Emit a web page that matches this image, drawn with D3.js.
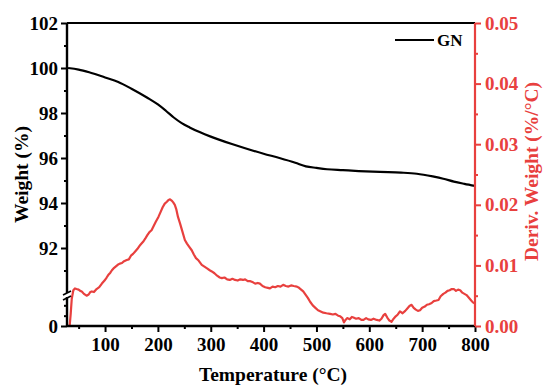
<!DOCTYPE html>
<html>
<head>
<meta charset="utf-8">
<script src="https://cdn.jsdelivr.net/npm/d3@7"></script>
<style>
  html, body { margin: 0; padding: 0; background: #fff; }
  svg text { font-family: "Liberation Serif", "Times New Roman", serif; font-weight: bold; }
</style>
</head>
<body>
<svg id="chart" width="543" height="390"></svg>
<script>
// TGA of GN: weight loss and its derivative versus temperature
const weightTemp = [30, 50, 70, 100, 125, 150, 180, 200, 215, 230, 245, 260, 280, 300, 340, 400, 430, 460, 480, 500, 520, 550, 580, 620, 660, 690, 720, 740, 760, 780, 800];
const weightPct  = [100.00, 99.93, 99.81, 99.58, 99.38, 99.08, 98.68, 98.38, 98.10, 97.80, 97.55, 97.36, 97.14, 96.95, 96.62, 96.19, 96.00, 95.79, 95.63, 95.56, 95.50, 95.46, 95.42, 95.38, 95.35, 95.30, 95.18, 95.08, 94.95, 94.85, 94.76];

const derivTemp = [30, 33, 35, 37, 40, 43, 46, 50, 53, 56, 60, 65, 69, 72, 75, 79, 84, 89, 94, 99,
  103, 106, 110, 113, 116, 120, 124, 128, 132, 136, 141, 145, 149, 153, 157, 161, 165, 169, 172, 176,
  180, 184, 188, 192, 196, 201, 205, 209, 213, 217, 220, 223, 226, 229, 232, 235, 238, 242, 246, 251,
  255, 259, 264, 268, 272, 277, 283, 288, 293, 298, 302, 307, 312, 317, 321, 326, 331, 336, 341, 346,
  351, 356, 361, 365, 370, 375, 380, 384, 389, 393, 398, 403, 408, 412, 417, 422, 427, 432, 437, 442,
  447, 452, 457, 463, 467, 471, 475, 479, 484, 488, 493, 498, 503, 508, 513, 519, 526, 531, 536, 541,
  545, 549, 552, 555, 558, 563, 567, 570, 575, 580, 585, 589, 594, 598, 603, 608, 614, 619, 623, 627,
  630, 634, 638, 642, 646, 650, 654, 658, 663, 668, 672, 676, 680, 684, 688, 692, 696, 700, 705, 709,
  713, 718, 722, 727, 731, 735, 740, 744, 748, 752, 756, 760, 764, 768, 772, 776, 780, 784, 788, 792,
  796, 800];
const derivVal = [0.0000, 0.0000, 0.0020, 0.0045, 0.0059, 0.0062, 0.0061, 0.0060, 0.0058, 0.0057, 0.0053, 0.0050, 0.0052, 0.0056, 0.0057, 0.0056, 0.0061, 0.0064, 0.0070, 0.0075,
  0.0080, 0.0084, 0.0088, 0.0092, 0.0095, 0.0098, 0.0101, 0.0103, 0.0104, 0.0107, 0.0109, 0.0110, 0.0116, 0.0119, 0.0123, 0.0127, 0.0132, 0.0136, 0.0139, 0.0144,
  0.0150, 0.0155, 0.0158, 0.0165, 0.0172, 0.0180, 0.0188, 0.0196, 0.0202, 0.0205, 0.0208, 0.0209, 0.0207, 0.0204, 0.0200, 0.0192, 0.0180, 0.0169, 0.0157, 0.0142,
  0.0136, 0.0131, 0.0125, 0.0118, 0.0112, 0.0108, 0.0101, 0.0098, 0.0095, 0.0092, 0.0090, 0.0087, 0.0083, 0.0080, 0.0079, 0.0080, 0.0077, 0.0076, 0.0078, 0.0076,
  0.0075, 0.0077, 0.0076, 0.0077, 0.0074, 0.0074, 0.0072, 0.0070, 0.0071, 0.0070, 0.0066, 0.0064, 0.0063, 0.0062, 0.0065, 0.0064, 0.0066, 0.0065, 0.0068, 0.0066,
  0.0065, 0.0067, 0.0066, 0.0065, 0.0063, 0.0060, 0.0057, 0.0052, 0.0046, 0.0040, 0.0034, 0.0030, 0.0026, 0.0024, 0.0022, 0.0021, 0.0020, 0.0019, 0.0020, 0.0017,
  0.0016, 0.0013, 0.0006, 0.0010, 0.0013, 0.0011, 0.0015, 0.0014, 0.0012, 0.0013, 0.0010, 0.0010, 0.0013, 0.0011, 0.0010, 0.0012, 0.0010, 0.0009, 0.0012, 0.0018,
  0.0020, 0.0014, 0.0009, 0.0007, 0.0012, 0.0016, 0.0019, 0.0024, 0.0021, 0.0025, 0.0029, 0.0033, 0.0035, 0.0030, 0.0027, 0.0025, 0.0026, 0.0030, 0.0032, 0.0035,
  0.0036, 0.0038, 0.0041, 0.0042, 0.0043, 0.0049, 0.0053, 0.0055, 0.0058, 0.0059, 0.0061, 0.0061, 0.0058, 0.0060, 0.0059, 0.0055, 0.0053, 0.0051, 0.0047, 0.0043,
  0.0039, 0.0037];

const xTicks = [100, 200, 300, 400, 500, 600, 700, 800];
const xMinor = [50, 150, 250, 350, 450, 550, 650, 750];
const wTicks = [92, 94, 96, 98, 100, 102];
const wMinor = [91, 93, 95, 97, 99, 101];
const wLowMinor = [1, 2];
const dTicks = [0, 0.01, 0.02, 0.03, 0.04, 0.05];
const dMinor = [0.005, 0.015, 0.025, 0.035, 0.045];

const RED = "#e8403e";
const L = 67, R = 475, T = 23, B = 326, BREAK = 296;

const svg = d3.select("#chart");

const x = d3.scaleLinear().domain([28, 800]).range([L, R]);
const yW = d3.scaleLinear().domain([90, 102]).range([293, T]);        // upper segment of broken axis
const yWLow = d3.scaleLinear().domain([0, 2.9]).range([B, BREAK]);   // lower segment (0 only)
const yD = d3.scaleLinear().domain([0, 0.05]).range([B, T]);

function styleAxis(g, color) {
  g.select(".domain").remove();
  g.selectAll(".tick line").attr("stroke", color).attr("stroke-width", 2);
  g.selectAll(".tick text").attr("fill", color).style("font-size", "19px");
}

// bottom axis
svg.append("g").attr("transform", `translate(0,${B})`)
  .call(d3.axisBottom(x).tickValues(xMinor).tickSize(3).tickFormat(""))
  .call(g => styleAxis(g, "#000"));
svg.append("g").attr("transform", `translate(0,${B})`)
  .call(d3.axisBottom(x).tickValues(xTicks).tickSize(6).tickPadding(6).tickFormat(d3.format("d")))
  .call(g => styleAxis(g, "#000"));

// left axis, upper segment
svg.append("g").attr("transform", `translate(${L},0)`)
  .call(d3.axisLeft(yW).tickValues(wMinor).tickSize(3).tickFormat(""))
  .call(g => styleAxis(g, "#000"));
svg.append("g").attr("transform", `translate(${L},0)`)
  .call(d3.axisLeft(yW).tickValues(wTicks).tickSize(6).tickPadding(3).tickFormat(d3.format("d")))
  .call(g => styleAxis(g, "#000"));
// left axis, lower segment
svg.append("g").attr("transform", `translate(${L},0)`)
  .call(d3.axisLeft(yWLow).tickValues(wLowMinor).tickSize(3).tickFormat(""))
  .call(g => styleAxis(g, "#000"));
svg.append("g").attr("transform", `translate(${L},0)`)
  .call(d3.axisLeft(yWLow).tickValues([0]).tickSize(6).tickPadding(3).tickFormat(d3.format("d")))
  .call(g => styleAxis(g, "#000"));

// right axis
svg.append("g").attr("transform", `translate(${R},0)`)
  .call(d3.axisRight(yD).tickValues(dMinor).tickSize(3).tickFormat(""))
  .call(g => styleAxis(g, RED));
svg.append("g").attr("transform", `translate(${R},0)`)
  .call(d3.axisRight(yD).tickValues(dTicks).tickSize(6).tickPadding(4).tickFormat(d3.format(".2f")))
  .call(g => styleAxis(g, RED));

// derivative curve
const dLine = d3.line().x((d, i) => x(derivTemp[i])).y(d => yD(d));
svg.append("path").datum(derivVal)
  .attr("d", dLine).attr("fill", "none").attr("stroke", RED)
  .attr("stroke-width", 2.2).attr("stroke-linejoin", "round");

// weight curve
const wLine = d3.line().curve(d3.curveMonotoneX).x((d, i) => x(weightTemp[i])).y(d => yW(d));
svg.append("path").datum(weightPct)
  .attr("d", wLine).attr("fill", "none").attr("stroke", "#000")
  .attr("stroke-width", 2.2).attr("stroke-linejoin", "round");

// frame lines
svg.append("line").attr("x1", L).attr("x2", R).attr("y1", T).attr("y2", T).attr("stroke", "#000").attr("stroke-width", 2.2);
svg.append("line").attr("x1", L).attr("x2", R).attr("y1", B).attr("y2", B).attr("stroke", "#000").attr("stroke-width", 2.4);
svg.append("line").attr("x1", L).attr("x2", L).attr("y1", T).attr("y2", B).attr("stroke", "#000").attr("stroke-width", 2.4);
svg.append("line").attr("x1", R).attr("x2", R).attr("y1", T).attr("y2", B).attr("stroke", RED).attr("stroke-width", 2.2);

// axis break marks
svg.append("rect").attr("x", L - 3).attr("y", BREAK - 3).attr("width", 6).attr("height", 4).attr("fill", "#fff");
[[BREAK - 4], [BREAK + 1]].forEach(([yy]) => {
  svg.append("line").attr("x1", L - 4).attr("y1", yy + 3).attr("x2", L + 4).attr("y2", yy - 1)
    .attr("stroke", "#000").attr("stroke-width", 1.8);
});

// axis titles
svg.append("text").attr("transform", `translate(${(L + R) / 2 + 2},381)`)
  .attr("text-anchor", "middle").style("font-size", "19.5px").text("Temperature (°C)");
svg.append("text").attr("transform", `translate(28,${(T + B) / 2}) rotate(-90)`)
  .attr("text-anchor", "middle").style("font-size", "19.5px").text("Weight (%)");
svg.append("text").attr("transform", `translate(538,${(T + B) / 2 - 3}) rotate(-90)`)
  .attr("text-anchor", "middle").attr("fill", RED).style("font-size", "19.5px").text("Deriv. Weight (%/°C)");

// legend
svg.append("line").attr("x1", 395).attr("x2", 434).attr("y1", 40).attr("y2", 40).attr("stroke", "#000").attr("stroke-width", 2.2);
svg.append("text").attr("x", 437).attr("y", 46).style("font-size", "17px").text("GN");
</script>
</body>
</html>
